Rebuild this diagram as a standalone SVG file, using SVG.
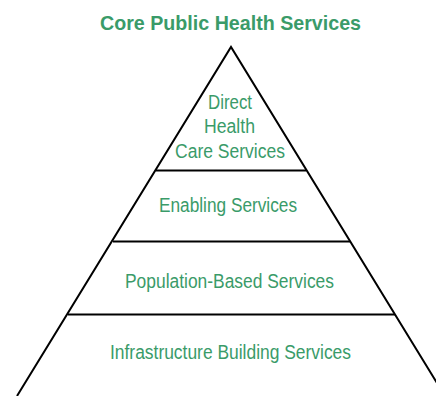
<svg xmlns="http://www.w3.org/2000/svg" width="436" height="396" viewBox="0 0 436 396">
<style>
.t{font-family:"Liberation Sans",Arial,sans-serif;fill:#3a9b69;text-anchor:middle;font-size:20px}
.title{font-weight:bold;font-size:21px}
.ln{stroke:#000;stroke-width:2;fill:none}
</style>
<rect width="436" height="396" fill="#fff"/>
<text id="title" class="t title" x="230.5" y="30" textLength="261" lengthAdjust="spacingAndGlyphs">Core Public Health Services</text>
<g id="connectors">
<polyline class="ln" points="17,396 231,47 445,396"/>
</g>
<g id="tier1">
<text class="t" x="230" y="109" textLength="44" lengthAdjust="spacingAndGlyphs">Direct</text>
<text class="t" x="229.5" y="133" textLength="51" lengthAdjust="spacingAndGlyphs">Health</text>
<text class="t" x="230" y="157.5" textLength="110" lengthAdjust="spacingAndGlyphs">Care Services</text>
<line class="ln" x1="156" y1="170.5" x2="306" y2="170.5"/>
</g>
<g id="tier2">
<text class="t" x="228" y="211.5" textLength="138" lengthAdjust="spacingAndGlyphs">Enabling Services</text>
<line class="ln" x1="113" y1="241.5" x2="350" y2="241.5"/>
</g>
<g id="tier3">
<text class="t" x="229.5" y="288" textLength="209" lengthAdjust="spacingAndGlyphs">Population-Based Services</text>
<line class="ln" x1="68" y1="314.5" x2="395" y2="314.5"/>
</g>
<g id="tier4">
<text class="t" x="230.5" y="359" textLength="241" lengthAdjust="spacingAndGlyphs">Infrastructure Building Services</text>
</g>
</svg>
